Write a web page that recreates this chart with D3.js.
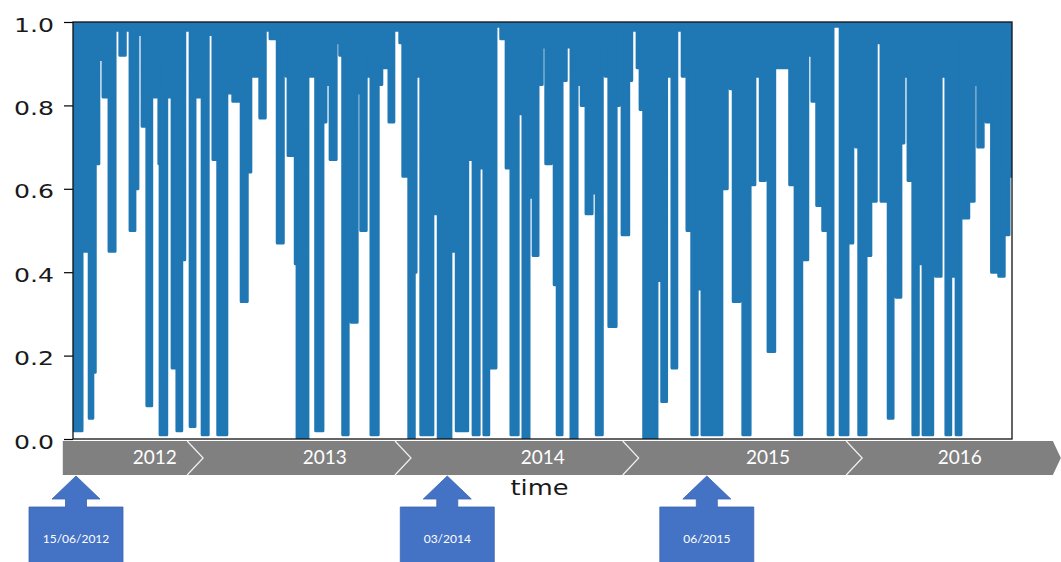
<!DOCTYPE html>
<html>
<head>
<meta charset="utf-8">
<script src="https://cdn.jsdelivr.net/npm/d3@7"></script>
<style>
  body { margin: 0; background: #ffffff; }
  svg { display: block; }
</style>
</head>
<body>
<div id="chart"></div>
<script>
// first observation, every other date is "days after this"
const startDate = new Date(2012, 5, 10);
const endDay = 1563;

// observation days (offset from startDate) and the ratio recorded on that day
const obsDays = [
  0, 15, 23, 27, 33, 37, 43, 50, 60, 70, 78, 87, 95, 103, 108, 115, 123, 131, 140, 143,
  145, 156, 165, 173, 181, 186, 195, 203, 215, 225, 233, 241, 256, 266, 280, 290, 296, 311, 320, 328,
  340, 350, 355, 358, 370, 373, 391, 404, 416, 421, 428, 438, 444, 449, 458, 463, 473, 479, 488, 493,
  496, 508, 514, 526, 534, 544, 549, 559, 568, 571, 579, 599, 608, 629, 633, 638, 657, 662, 666, 676,
  684, 692, 704, 712, 721, 729, 741, 749, 759, 766, 774, 781, 787, 796, 801, 806, 814, 821, 829, 839,
  846, 854, 864, 871, 881, 886, 892, 904, 909, 914, 925, 930, 939, 944, 950, 972, 980, 988, 997, 1005,
  1014, 1022, 1030, 1039, 1042, 1047, 1080, 1089, 1094, 1099, 1110, 1115, 1127, 1135, 1144, 1152, 1157, 1168, 1193, 1202,
  1213, 1223, 1230, 1238, 1248, 1257, 1265, 1277, 1290, 1298, 1303, 1308, 1320, 1328, 1337, 1345, 1357, 1365, 1370, 1378,
  1383, 1390, 1398, 1407, 1415, 1431, 1436, 1445, 1453, 1461, 1470, 1478, 1481, 1491, 1500, 1506, 1515, 1520, 1529, 1537,
  1541, 1550, 1558
];
const obsValues = [
  0.02, 0.45, 0.97, 0.05, 0.16, 0.66, 0.91, 0.82, 0.45, 0.98, 0.92, 0.98, 0.50, 0.60, 0.97, 0.75, 0.08, 0.82, 0.90, 0.66,
  0.01, 0.82, 0.17, 0.02, 0.43, 0.98, 0.03, 0.82, 0.01, 0.97, 0.67, 0.01, 0.83, 0.81, 0.33, 0.64, 0.87, 0.77, 0.98, 0.96,
  0.47, 0.97, 0.87, 0.68, 0.42, 0.00, 0.87, 0.02, 0.76, 0.85, 0.67, 0.95, 0.92, 0.01, 0.75, 0.28, 0.83, 0.50, 0.87, 0.92,
  0.01, 0.85, 0.89, 0.76, 0.98, 0.95, 0.63, 0.00, 0.40, 0.87, 0.01, 0.54, 0.00, 0.97, 0.45, 0.02, 0.67, 0.84, 0.01, 0.65,
  0.01, 0.17, 0.99, 0.96, 0.65, 0.01, 0.78, 0.00, 0.58, 0.44, 0.85, 0.94, 0.66, 0.89, 0.37, 0.01, 0.86, 0.94, 0.00, 0.85,
  0.80, 0.54, 0.59, 0.01, 0.95, 0.87, 0.27, 0.80, 0.98, 0.49, 0.86, 0.98, 0.89, 0.79, 0.00, 0.38, 0.09, 0.87, 0.17, 0.98,
  0.87, 0.50, 0.01, 0.89, 0.36, 0.01, 0.60, 0.96, 0.84, 0.33, 0.70, 0.01, 0.61, 0.87, 0.62, 0.96, 0.21, 0.89, 0.61, 0.01,
  0.43, 0.92, 0.81, 0.56, 0.50, 0.01, 0.99, 0.01, 0.47, 0.90, 0.70, 0.01, 0.44, 0.57, 0.95, 0.57, 0.05, 0.81, 0.34, 0.71,
  0.87, 0.62, 0.01, 0.42, 0.01, 0.97, 0.39, 0.87, 0.01, 0.39, 0.01, 0.97, 0.53, 0.57, 0.85, 0.70, 0.88, 0.76, 0.40, 0.89,
  0.39, 0.49, 0.63
];

const yTicks = [0.0, 0.2, 0.4, 0.6, 0.8, 1.0];

// timeline ribbon under the axis (day offsets where each chevron starts / ends)
const ribbonYears = ["2012", "2013", "2014", "2015", "2016"];
const ribbonStarts = [-17, 190, 536, 915, 1287];
const ribbonEnd = 1631;
const ribbonLabelDays = [136, 419, 782, 1157, 1476];

// callouts pointing at the ribbon
const calloutLabels = ["15/06/2012", "03/2014", "06/2015"];
const calloutDays = [5, 623, 1055];

const W = 1061, H = 562;
const plot = { left: 73, right: 1012, top: 22, bottom: 439 };
const blue = "#1f77b4";

const dayToDate = n => d3.timeDay.offset(startDate, n);

const data = obsDays.map((d, i) => ({ date: dayToDate(d), value: obsValues[i] }));
// carry the last value to the right edge of the axes
data.push({ date: dayToDate(endDay), value: obsValues[obsValues.length - 1] });

const svg = d3.select("#chart").append("svg")
    .attr("width", W)
    .attr("height", H);

svg.append("rect").attr("width", W).attr("height", H).attr("fill", "#ffffff");

const x = d3.scaleTime()
    .domain([startDate, dayToDate(endDay)])
    .range([plot.left, plot.right]);

const y = d3.scaleLinear()
    .domain([0, 1])
    .range([plot.bottom, plot.top]);

svg.append("clipPath").attr("id", "plot-clip")
   .append("rect")
   .attr("x", plot.left).attr("y", plot.top)
   .attr("width", plot.right - plot.left)
   .attr("height", plot.bottom - plot.top);

// the series swings between 1.0 and each recorded low, drawn as a stepped band
const band = d3.area()
    .x(d => x(d.date))
    .y0(y(1))
    .y1(d => y(d.value))
    .curve(d3.curveStepAfter);

svg.append("path")
   .datum(data)
   .attr("clip-path", "url(#plot-clip)")
   .attr("fill", blue)
   .attr("stroke", blue)
   .attr("stroke-width", 3)
   .attr("stroke-linejoin", "round")
   .attr("d", band);

// y axis
const yAxis = svg.append("g")
    .attr("transform", `translate(${plot.left},0)`)
    .call(d3.axisLeft(y).tickValues(yTicks).tickFormat(d3.format(".1f")).tickSize(9).tickPadding(10));

yAxis.select(".domain").remove();
yAxis.selectAll(".tick line").attr("stroke", "#000").attr("stroke-width", 1.2);
yAxis.selectAll(".tick text")
     .attr("font-family", "DejaVu Sans")
     .attr("font-size", 20)
     .attr("fill", "#1a1a1a")
     .attr("dy", 9)
     .attr("textLength", 40)
     .attr("lengthAdjust", "spacingAndGlyphs");

// axes frame
svg.append("rect")
   .attr("x", plot.left).attr("y", plot.top)
   .attr("width", plot.right - plot.left)
   .attr("height", plot.bottom - plot.top)
   .attr("fill", "none")
   .attr("stroke", "#111")
   .attr("stroke-width", 1.3);

// timeline ribbon
const rTop = 441, rBot = 475, rMid = (rTop + rBot) / 2, notch = 16;
const xr0 = x(dayToDate(ribbonStarts[0]));
const xr1 = x(dayToDate(ribbonEnd));

svg.append("path")
   .attr("d", `M${xr0},${rTop}L${xr1},${rTop}L${xr1 + 8},${rMid}L${xr1},${rBot}L${xr0},${rBot}Z`)
   .attr("fill", "#808080");

svg.selectAll(".sep")
   .data(ribbonStarts.slice(1))
   .join("path")
   .attr("class", "sep")
   .attr("d", d => {
       const bx = x(dayToDate(d));
       return `M${bx},${rTop}L${bx + notch},${rMid}L${bx},${rBot}`;
   })
   .attr("fill", "none")
   .attr("stroke", "#f2f2f2")
   .attr("stroke-width", 1.2);

svg.selectAll(".year")
   .data(ribbonYears)
   .join("text")
   .attr("class", "year")
   .attr("x", (d, i) => x(dayToDate(ribbonLabelDays[i])))
   .attr("y", 464)
   .attr("text-anchor", "middle")
   .attr("font-family", "Lato")
   .attr("font-size", 19)
   .attr("fill", "#ffffff")
   .text(d => d);

// x label
svg.append("text")
   .attr("x", (plot.left + plot.right) / 2 - 3)
   .attr("y", 495)
   .attr("text-anchor", "middle")
   .attr("font-family", "DejaVu Sans")
   .attr("font-size", 21)
   .attr("fill", "#1a1a1a")
   .attr("textLength", 58)
   .attr("lengthAdjust", "spacingAndGlyphs")
   .text("time");

// up-arrow callouts
const callout = svg.selectAll(".callout")
    .data(calloutLabels)
    .join("g")
    .attr("class", "callout")
    .attr("transform", (d, i) => `translate(${x(dayToDate(calloutDays[i]))},0)`);

callout.append("path")
    .attr("d", "M0,476L24,499L10.5,499L10.5,507L47,507L47,566L-47,566L-47,507L-10.5,507L-10.5,499L-24,499Z")
    .attr("fill", "#4472c4")
    .attr("stroke", "#3b64b0")
    .attr("stroke-width", 0.8);

callout.append("text")
    .attr("x", 0)
    .attr("y", 543)
    .attr("text-anchor", "middle")
    .attr("font-family", "Lato")
    .attr("font-size", 12)
    .attr("fill", "#ffffff")
    .text(d => d);
</script>
</body>
</html>
